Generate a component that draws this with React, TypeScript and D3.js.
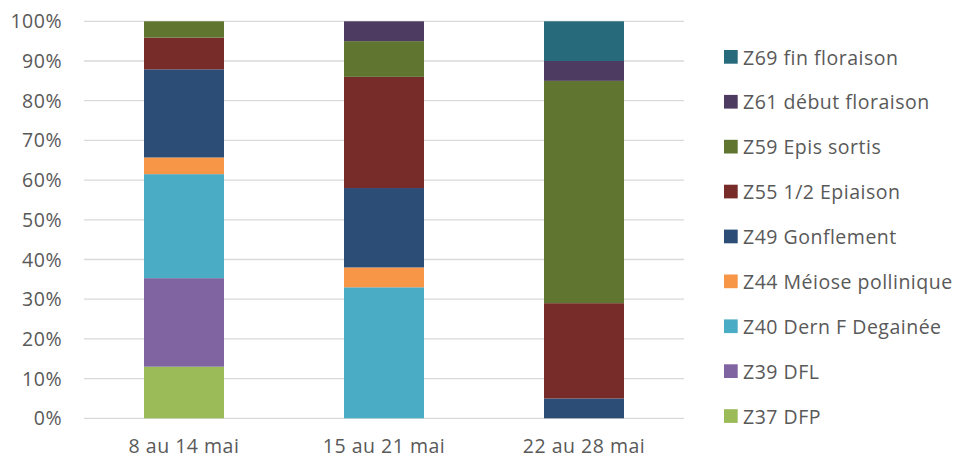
import React from 'react';
import * as d3 from 'd3';

const periods = ['8 au 14 mai', '15 au 21 mai', '22 au 28 mai'];

const stages = [
  'Z37 DFP',
  'Z39 DFL',
  'Z40 Dern F Degainée',
  'Z44 Méiose pollinique',
  'Z49 Gonflement',
  'Z55 1/2 Epiaison',
  'Z59 Epis sortis',
  'Z61 début floraison',
  'Z69 fin floraison',
];

const stageColors = ['#9BBB59', '#8064A2', '#4BACC6', '#F79646', '#2C4D75', '#772C2A', '#5F7530', '#4D3B62', '#276A7C'];

// share of each stage (%), one array per period, in the order of `stages`
const week1 = [13, 22.3, 26.2, 4.2, 22.2, 8, 4.1, 0, 0];
const week2 = [0, 0, 33, 5, 20, 28, 9, 5, 0];
const week3 = [0, 0, 0, 0, 5, 24, 56, 5, 10];

const yTicks = [0, 10, 20, 30, 40, 50, 60, 70, 80, 90, 100];

const App = () => {
  const width = 961, height = 459;
  const left = 84, right = 684, top = 21.3, bottom = 418.3;

  const x = d3.scaleBand().domain(periods).range([left, right]).paddingInner(0.6).paddingOuter(0.3);
  const y = d3.scaleLinear().domain([0, 100]).range([bottom, top]);

  const table = periods.map((p, i) => {
    const vals = [week1, week2, week3][i];
    const row: any = { period: p };
    stages.forEach((s, j) => (row[s] = vals[j]));
    return row;
  });
  const series = d3.stack().keys(stages)(table);

  const font = '"Open Sans", sans-serif';
  const textColor = '#595959';
  const fs = 19.5, ls = 0.5;

  return (
    <svg width={width} height={height} style={{ position: 'absolute', left: 0, top: 0 }}>
      <rect width={width} height={height} fill="#fff" />
      {yTicks.map(t => (
        <g key={t}>
          <line x1={left} x2={right} y1={y(t)} y2={y(t)} stroke="#D9D9D9" strokeWidth={1.3} />
          <text x={62} y={y(t) + 7} textAnchor="end" fontFamily={font} fontSize={fs} letterSpacing={ls} fill={textColor}>
            {t}%
          </text>
        </g>
      ))}
      {series.map((s, j) => (
        <g key={s.key} fill={stageColors[j]}>
          {s.map((d, i) =>
            d[1] - d[0] > 0 ? (
              <rect key={i} x={x(periods[i])} width={x.bandwidth()} y={y(d[1])} height={y(d[0]) - y(d[1])} />
            ) : null
          )}
        </g>
      ))}
      {periods.map(p => (
        <text key={p} x={(x(p) as number) + x.bandwidth() / 2} y={453} textAnchor="middle"
          fontFamily={font} fontSize={fs} letterSpacing={ls} fill={textColor}>
          {p}
        </text>
      ))}
      {stages.slice().reverse().map((s, k) => {
        const base = 64.5 + k * 44.9;
        const j = stages.length - 1 - k;
        return (
          <g key={s}>
            <rect x={724} y={base - 14.5} width={13.7} height={13.7} fill={stageColors[j]} />
            <text x={743} y={base} fontFamily={font} fontSize={fs} letterSpacing={ls} fill={textColor}>
              {s}
            </text>
          </g>
        );
      })}
    </svg>
  );
};

export default App;
